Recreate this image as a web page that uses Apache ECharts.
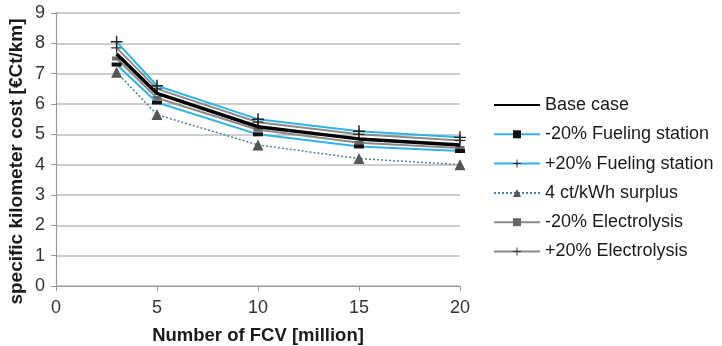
<!DOCTYPE html>
<html>
<head>
<meta charset="utf-8">
<script src="https://cdn.jsdelivr.net/npm/echarts@6/dist/echarts.min.js"></script>
<style>
  html, body { margin: 0; padding: 0; background: #fff; }
  #chart { width: 722px; height: 346px; }
</style>
</head>
<body>
<div id="chart"></div>
<script>
// number of FCV [million]
const fcv = [3, 5, 10, 15, 20];

// specific kilometer cost [€Ct/km]
const baseCase = [7.65, 6.35, 5.25, 4.85, 4.65];
const fuelMinus20 = [7.3, 6.05, 5.0, 4.6, 4.45];
const fuelPlus20 = [8.05, 6.6, 5.5, 5.1, 4.9];
const surplus4ct = [7.05, 5.65, 4.65, 4.2, 4.0];
const elecMinus20 = [7.5, 6.2, 5.15, 4.72, 4.55];
const elecPlus20 = [7.85, 6.5, 5.4, 5.0, 4.8];

const seriesNames = [
    "Base case",
    "-20% Fueling station",
    "+20% Fueling station",
    "4 ct/kWh surplus",
    "-20% Electrolysis",
    "+20% Electrolysis"
];

const pairs = (ys) => fcv.map((x, i) => [x, ys[i]]);

// marker shapes
const plusIcon = "path://M4.4,0h1.2v4.4h4.4v1.2h-4.4v4.4h-1.2v-4.4h-4.4v-1.2h4.4z";
const BLUE = "#2fb3e6";
const GRAY = "#8a8a8a";

const chart = echarts.init(document.getElementById("chart"));

chart.setOption({
    backgroundColor: "#fff",
    animation: false,
    textStyle: { fontFamily: "Liberation Sans, Arial, sans-serif" },
    grid: { left: 56, right: 262, top: 13, bottom: 60, outerBoundsMode: "none", containLabel: false },
    legend: {
        orient: "vertical",
        left: 488,
        top: 91,
        itemWidth: 46,
        itemHeight: 10,
        itemGap: 11.3,
        data: seriesNames.map((n) =>
            n === "Base case" ? { name: n, itemStyle: { opacity: 0 } } : n
        ),
        textStyle: { fontSize: 18, color: "#1a1a1a" }
    },
    xAxis: {
        type: "value",
        min: 0,
        max: 20,
        interval: 5,
        name: "Number of FCV [million]",
        nameLocation: "middle",
        nameGap: 40,
        nameTextStyle: { fontSize: 18.5, fontWeight: "bold", color: "#1a1a1a" },
        axisLine: { lineStyle: { color: "#9a9a9a", width: 1.2 } },
        axisTick: { show: true, length: 5, lineStyle: { color: "#9a9a9a" } },
        axisLabel: { fontSize: 18, color: "#333", margin: 13 },
        splitLine: { show: false }
    },
    yAxis: {
        type: "value",
        min: 0,
        max: 9,
        interval: 1,
        name: "specific kilometer cost [€Ct/km]",
        nameLocation: "middle",
        nameGap: 30,
        nameMoveOverlap: false,
        nameTextStyle: {
            fontSize: 19,
            fontWeight: "bold",
            color: "#1a1a1a",
            padding: [0, 24, 0, 0]
        },
        axisLine: { show: true, lineStyle: { color: "#9a9a9a", width: 1.2 } },
        axisTick: { show: true, length: 5, lineStyle: { color: "#9a9a9a" } },
        axisLabel: { fontSize: 18, color: "#333", margin: 11 },
        splitLine: { lineStyle: { color: "#bdbdbd", width: 1.5 } }
    },
    series: [
        {
            name: seriesNames[4],
            type: "line",
            data: pairs(elecMinus20),
            symbol: "rect",
            symbolSize: [9, 4],
            itemStyle: { color: "#666" },
            lineStyle: { color: GRAY, width: 2 },
            z: 2
        },
        {
            name: seriesNames[5],
            type: "line",
            data: pairs(elecPlus20),
            symbol: plusIcon,
            symbolSize: 11,
            itemStyle: { color: "#333" },
            lineStyle: { color: GRAY, width: 2 },
            z: 2
        },
        {
            name: seriesNames[1],
            type: "line",
            data: pairs(fuelMinus20),
            symbol: "rect",
            symbolSize: [10, 4],
            itemStyle: { color: "#111" },
            lineStyle: { color: BLUE, width: 2 },
            z: 3
        },
        {
            name: seriesNames[2],
            type: "line",
            data: pairs(fuelPlus20),
            symbol: plusIcon,
            symbolSize: 12,
            itemStyle: { color: "#222" },
            lineStyle: { color: BLUE, width: 2 },
            z: 3
        },
        {
            name: seriesNames[3],
            type: "line",
            data: pairs(surplus4ct),
            symbol: "triangle",
            symbolSize: 11,
            itemStyle: { color: "#555" },
            lineStyle: { color: "#4d7f97", width: 1.5, type: [2, 2] },
            z: 3
        },
        {
            name: seriesNames[0],
            type: "line",
            data: pairs(baseCase),
            symbol: "none",
            itemStyle: { color: "#000" },
            lineStyle: { color: "#000", width: 3.5 },
            z: 4
        }
    ]
});
</script>
</body>
</html>
